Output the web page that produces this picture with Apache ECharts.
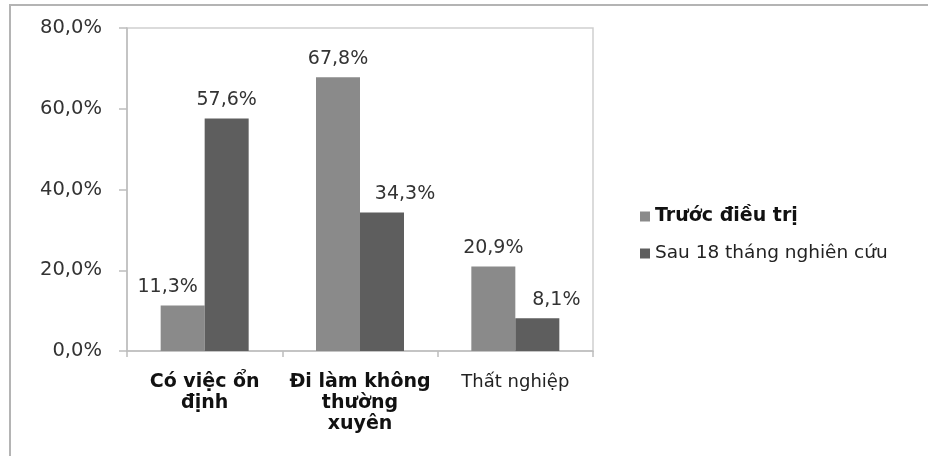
<!DOCTYPE html>
<html>
<head>
<meta charset="utf-8">
<script src="https://cdn.jsdelivr.net/npm/echarts@6/dist/echarts.min.js"></script>
<style>
  html, body { margin: 0; padding: 0; background: #fff; }
  #chart { width: 928px; height: 456px; }
</style>
</head>
<body>
<div id="chart"></div>
<script>
// Employment status before treatment and after 18 months of follow-up (%)
const categories = ['Có việc ổn\nđịnh', 'Đi làm không\nthường\nxuyên', 'Thất nghiệp'];
const seriesNames = ['Trước điều trị', 'Sau 18 tháng nghiên cứu'];
const beforeValues = [11.3, 67.8, 20.9];
const afterValues = [57.6, 34.3, 8.1];
const yTicks = [0, 20, 40, 60, 80];

// horizontal nudges keep neighbouring value labels apart
const beforeLabelShift = [-15, 0, 0];
const afterLabelShift = [0, 23, 19];

const pct = v => v.toFixed(1).replace('.', ',') + '%';

const chart = echarts.init(document.getElementById('chart'), null, { renderer: 'canvas' });

const makeData = (vals, shifts) => vals.map((v, i) => ({
  value: v,
  label: { offset: [shifts[i], 0] }
}));

const labelStyle = {
  show: true,
  position: 'top',
  distance: 9,
  fontFamily: 'DejaVu Sans',
  fontSize: 19,
  color: '#333',
  formatter: p => pct(p.value)
};

chart.setOption({
  animation: false,
  backgroundColor: '#fff',
  graphic: [{
    type: 'rect',
    shape: { x: 10, y: 5, width: 1000, height: 600 },
    style: { fill: 'none', stroke: '#b4b4b4', lineWidth: 2 },
    silent: true
  }],
  grid: {
    left: 127, top: 28, right: 335, bottom: 105,
    show: true, borderColor: '#cfcfcf', borderWidth: 1.5, backgroundColor: 'transparent'
  },
  legend: {
    orient: 'vertical',
    left: 635,
    top: 202,
    itemWidth: 10,
    itemHeight: 10,
    itemGap: 18,
    icon: 'rect',
    data: seriesNames,
    formatter: name => name === seriesNames[0] ? '{b|' + name + '}' : '{n|' + name + '}',
    textStyle: {
      padding: [0, 0, 0, 0],
      rich: {
        b: { fontFamily: 'DejaVu Sans', fontSize: 19, fontWeight: 'bold', color: '#111', lineHeight: 21 },
        n: { fontFamily: 'DejaVu Sans', fontSize: 18.5, color: '#222', lineHeight: 21 }
      }
    }
  },
  xAxis: {
    type: 'category',
    data: categories,
    axisLine: { lineStyle: { color: '#bdbdbd', width: 1.5 } },
    axisTick: { show: true, length: 6, alignWithLabel: false, lineStyle: { color: '#bdbdbd', width: 1.5 } },
    axisLabel: {
      margin: 21,
      interval: 0,
      formatter: (v, i) => i < 2 ? '{b|' + v + '}' : '{n|' + v + '}',
      rich: {
        b: { fontFamily: 'DejaVu Sans', fontSize: 19, fontWeight: 'bold', color: '#111', lineHeight: 21 },
        n: { fontFamily: 'DejaVu Sans', fontSize: 18, color: '#222', lineHeight: 21 }
      }
    }
  },
  yAxis: {
    type: 'value',
    min: yTicks[0],
    max: yTicks[yTicks.length - 1],
    interval: yTicks[1] - yTicks[0],
    splitLine: { show: false },
    axisLine: { show: true, lineStyle: { color: '#bdbdbd', width: 1.5 } },
    axisTick: { show: true, length: 8, lineStyle: { color: '#bdbdbd', width: 1.5 } },
    axisLabel: {
      margin: 25,
      fontFamily: 'DejaVu Sans',
      fontSize: 19.5,
      color: '#333',
      formatter: v => pct(v)
    }
  },
  series: [
    {
      name: seriesNames[0],
      type: 'bar',
      barWidth: 44,
      barGap: '0%',
      itemStyle: { color: '#8a8a8a' },
      label: labelStyle,
      data: makeData(beforeValues, beforeLabelShift)
    },
    {
      name: seriesNames[1],
      type: 'bar',
      barWidth: 44,
      barGap: '0%',
      itemStyle: { color: '#5e5e5e' },
      label: labelStyle,
      data: makeData(afterValues, afterLabelShift)
    }
  ]
});
</script>
</body>
</html>
